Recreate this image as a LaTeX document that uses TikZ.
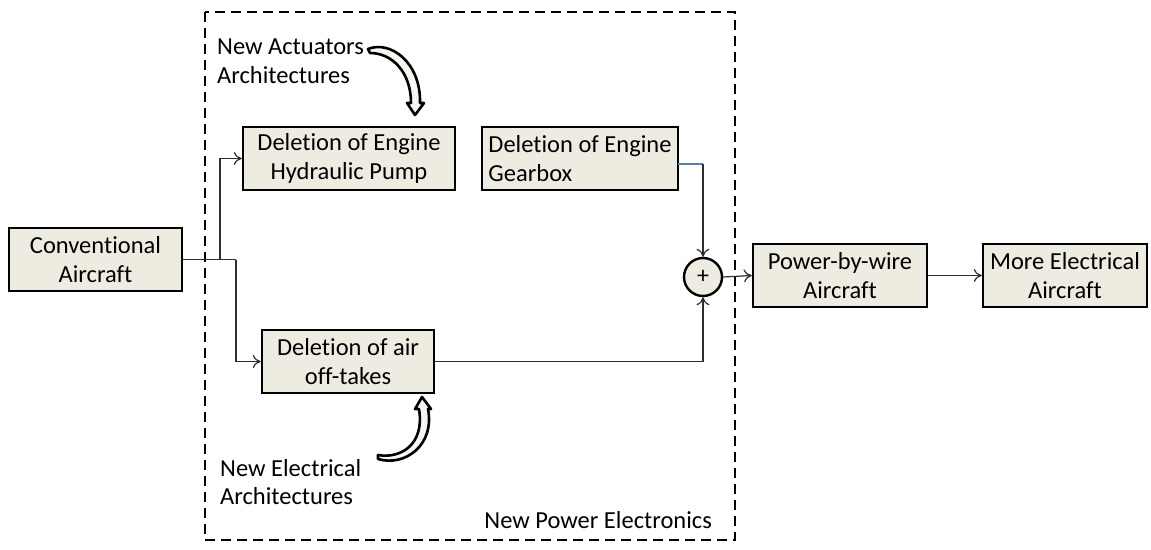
\documentclass[tikz,border=0pt]{standalone}
\usepackage{fontspec}
\setmainfont{Carlito}[Ligatures=NoCommon]
\usetikzlibrary{arrows.meta}
\definecolor{boxfill}{HTML}{EEECE1}
\definecolor{linec}{HTML}{2E2E2E}
\definecolor{bluel}{HTML}{4F81BD}
\tikzset{
  blk/.style={draw=black, line width=2.4pt, fill=boxfill, align=center, inner sep=0pt, font=\fontsize{24.5}{28.5}\selectfont},
  conn/.style={draw=linec, line width=1.2pt},
  arr/.style={conn, -{To[length=8pt,width=13pt]}},
  bent/.style={draw=black, line width=2.6pt, fill=boxfill!50!white, line join=round},
  lbl/.style={font=\fontsize{24.5}{28.5}\selectfont, align=left, inner sep=0pt, anchor=west},
}
\begin{document}
\begin{tikzpicture}[x=1pt,y=-1pt]
\useasboundingbox (0,0) rectangle (1151,549);
% dashed region
\draw[black, line width=2.7pt, dash pattern=on 10pt off 6pt] (205,12) rectangle (735,540);
% boxes
\node[blk, minimum width=173pt, minimum height=63pt] (conv) at (95.5,259.5) {Conventional\\Aircraft};
\node[blk, minimum width=212pt, minimum height=63pt] (hyd) at (349,158.5) {Deletion of Engine\\Hydraulic Pump};
\node[blk, minimum width=196pt, minimum height=63pt, align=left] (gear) at (580,158.5) {Deletion of Engine\\Gearbox};
\node[blk, minimum width=172pt, minimum height=63pt] (air) at (348,361.5) {Deletion of air\\off-takes};
\node[blk, circle, minimum size=38pt, font=\fontsize{24}{24}\selectfont] (sum) at (703,277) {+};
\node[blk, minimum width=174pt, minimum height=63pt] (pbw) at (840,275.5) {Power-by-wire\\Aircraft};
\node[blk, minimum width=164pt, minimum height=63pt] (mea) at (1065,275.5) {More Electrical\\Aircraft};
% labels
\node[lbl] (la) at (217,61) {New Actuators\\Architectures};
\node[lbl] (le) at (220,482) {New Electrical\\Architectures};
\node[lbl, anchor=east] (lp) at (712,520) {New Power Electronics};
% connectors
\coordinate (j1) at (220,259.5);
\coordinate (j2) at (236,259.5);
\coordinate (g0) at (678,164);
\coordinate (g1) at (703,164);
\draw[conn] (conv.east) -- (j2);
\draw[arr] (j1) |- (hyd.west);
\draw[arr] (j2) |- (air.west);
\draw[draw=bluel, line width=1.2pt] (g0) -- (g1);
\draw[arr] (g1) -- (sum.north);
\draw[arr] (air.east) -| (sum.south);
\draw[arr] (sum.east) -- (pbw.west);
\draw[arr] (pbw.east) -- (mea.west);
% curved block arrows
\draw[bent] (368,49) .. controls (390,40) and (421,62) .. (420,103)
  -- (424,103) -- (415,115) -- (407,103) -- (411,103)
  .. controls (411,72) and (392,53) .. (370,53) -- cycle;
\draw[bent] (378,459) .. controls (405,467) and (435,445) .. (428,409)
  -- (431,409) -- (422,397) -- (415,409) -- (419,409)
  .. controls (425,445) and (400,459) .. (378,455) -- cycle;
\end{tikzpicture}
\end{document}
